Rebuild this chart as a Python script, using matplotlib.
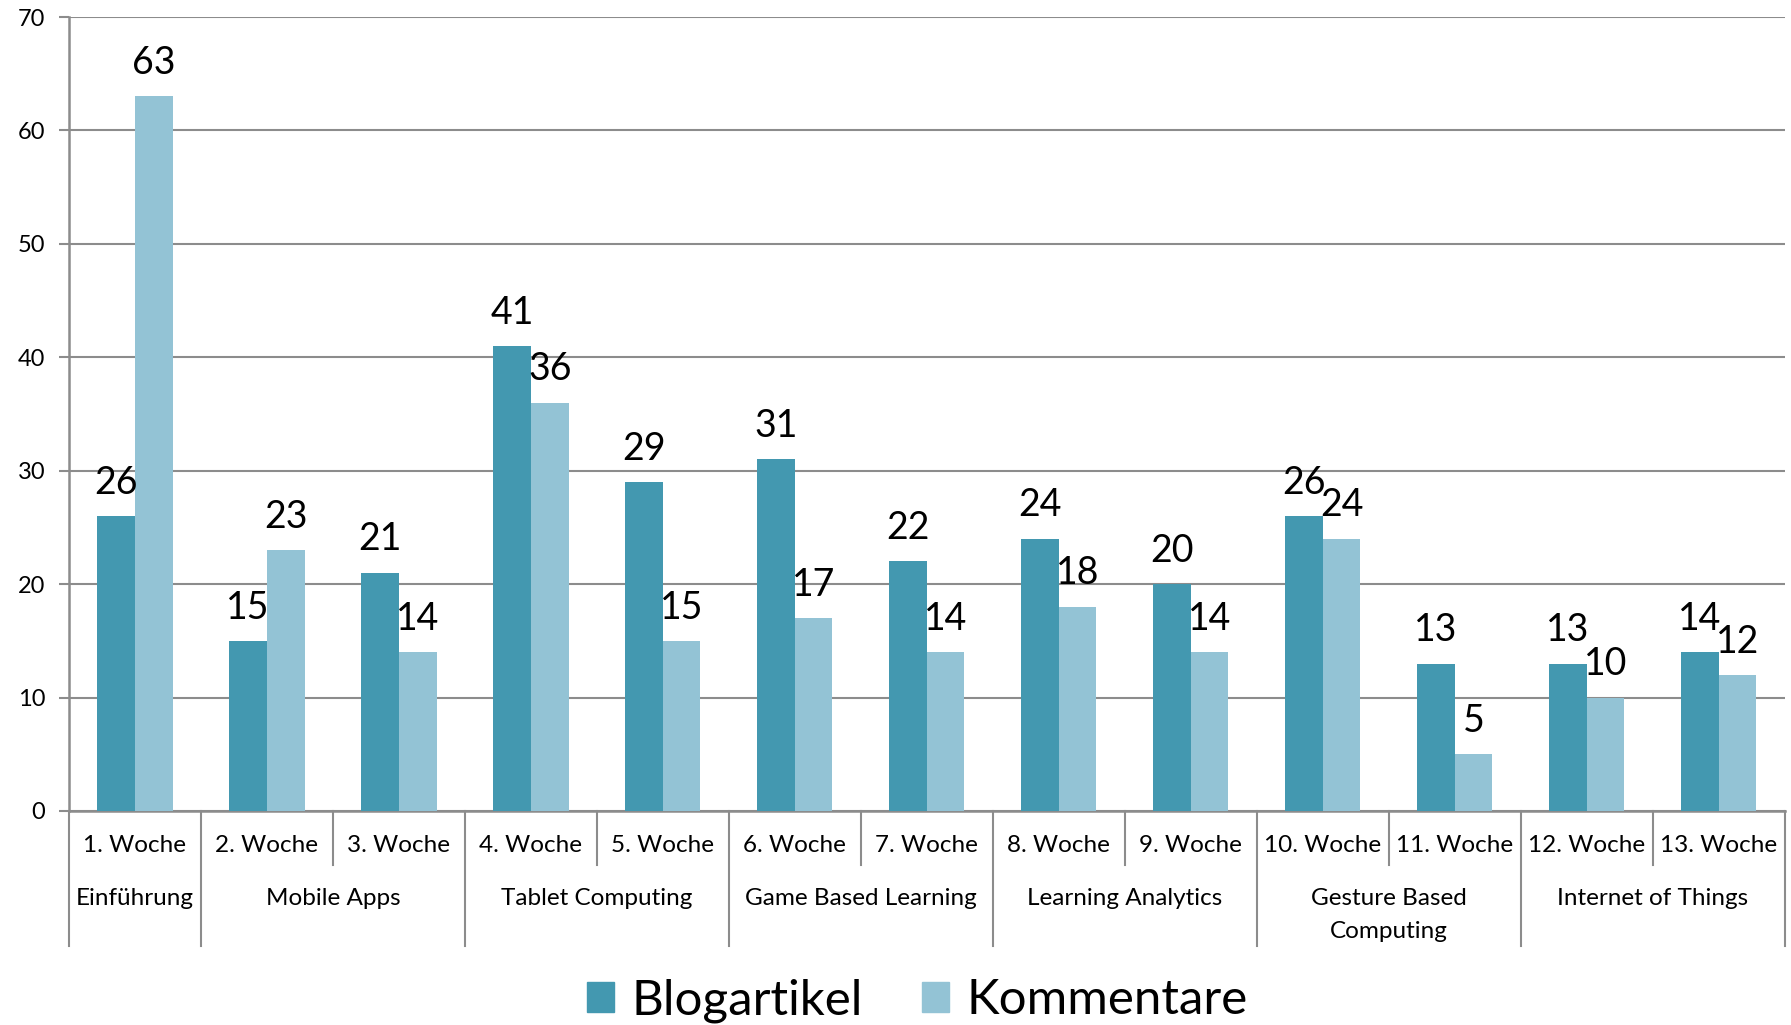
import matplotlib
matplotlib.use("Agg")
import matplotlib.pyplot as plt
import matplotlib.transforms as mtransforms
from matplotlib.patches import Patch
import numpy as np

plt.rcParams['font.family'] = ['Lato', 'DejaVu Sans']

weeks = ["1. Woche", "2. Woche", "3. Woche", "4. Woche", "5. Woche", "6. Woche", "7. Woche",
         "8. Woche", "9. Woche", "10. Woche", "11. Woche", "12. Woche", "13. Woche"]
blogartikel = [26, 15, 21, 41, 29, 31, 22, 24, 20, 26, 13, 13, 14]
kommentare = [63, 23, 14, 36, 15, 17, 14, 18, 14, 24, 5, 10, 12]
topics = ["Einführung", "Mobile Apps", "Tablet Computing", "Game Based Learning",
          "Learning Analytics", "Gesture Based\nComputing", "Internet of Things"]
topic_sizes = [1, 2, 2, 2, 2, 2, 2]
series_names = ["Blogartikel", "Kommentare"]
y_ticks = [0, 10, 20, 30, 40, 50, 60, 70]

c_dark = "#4398B0"
c_light = "#93C3D5"
grid_c = "#8C8C8C"

fig = plt.figure(figsize=(17.91, 10.25), dpi=100)
ax = fig.add_axes([0.0385, 0.2088, 0.958, 0.7746])

x = np.arange(len(weeks))
w = 0.285
b1 = ax.bar(x - w / 2, blogartikel, width=w, color=c_dark, zorder=3)
b2 = ax.bar(x + w / 2, kommentare, width=w, color=c_light, zorder=3)

for bars, vals in ((b1, blogartikel), (b2, kommentare)):
    for rect, v in zip(bars, vals):
        ax.annotate(str(v), (rect.get_x() + rect.get_width() / 2, v),
                    xytext=(0, 24), textcoords="offset points",
                    ha="center", va="center", fontsize=27, color="black", zorder=5)

ax.set_xlim(-0.5, len(weeks) - 0.5)
ax.set_ylim(0, 70)
ax.set_yticks(y_ticks)
ax.set_yticklabels([str(t) for t in y_ticks], fontsize=17)
ax.yaxis.grid(True, color=grid_c, linewidth=1.5, zorder=0)
ax.tick_params(axis="y", length=7, width=1.5, color=grid_c, pad=10)
ax.set_xticks([])
for s in ("top", "right"):
    ax.spines[s].set_visible(False)
for s in ("left", "bottom"):
    ax.spines[s].set_color(grid_c)
    ax.spines[s].set_linewidth(1.8)

trans = mtransforms.blended_transform_factory(ax.transData, ax.transAxes)

# week labels
for xi, lab in zip(x, weeks):
    ax.text(xi, -0.043, lab, transform=trans, ha="center", va="center", fontsize=17.5)

# group boundaries
bounds = np.concatenate([[0], np.cumsum(topic_sizes)])
for i in range(len(weeks) + 1):
    long = i in bounds
    ax.plot([i - 0.5, i - 0.5], [0, -0.170 if long else -0.068], transform=trans,
            color=grid_c, linewidth=1.5, clip_on=False)

for t, start, size in zip(topics, bounds[:-1], topic_sizes):
    cx = start + size / 2 - 0.5
    for j, line in enumerate(t.split("\n")):
        ax.text(cx, -0.110 - j * 0.042, line, transform=trans, ha="center", va="center",
                fontsize=17.5)

handles = [Patch(color=c_dark), Patch(color=c_light)]
fig.legend(handles, series_names, loc="center", bbox_to_anchor=(0.512, 0.024), ncol=2,
           frameon=False, fontsize=35.5, handlelength=0.55, handleheight=0.55,
           handletextpad=0.35, columnspacing=1.2)

fig.savefig("out.png", dpi=100, facecolor="white")
